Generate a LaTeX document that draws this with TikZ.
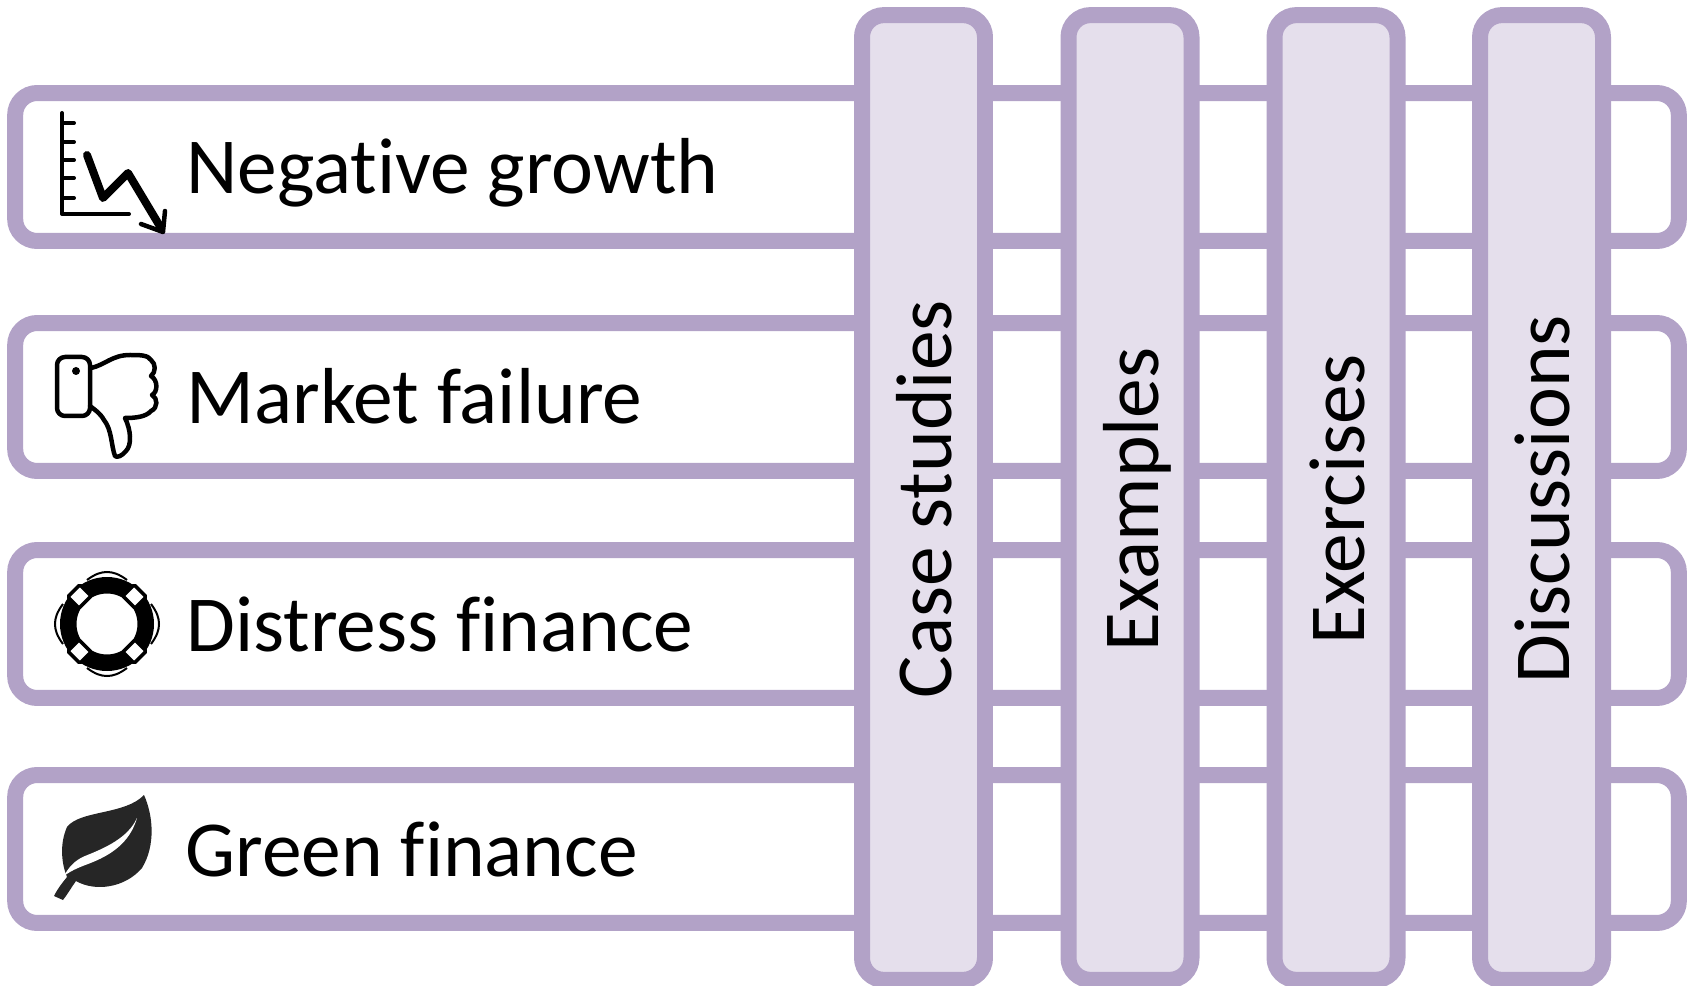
\documentclass[tikz,border=0pt]{standalone}
\usepackage{fontspec}
\setmainfont[Ligatures=NoCommon]{Carlito}
\usepackage{xcolor}
\definecolor{rowline}{HTML}{B2A2C7}
\definecolor{colfill}{HTML}{E5DFEC}
\definecolor{leafdark}{HTML}{262626}
\tikzset{
  rowbox/.style={draw=rowline, line width=0.32cm, rounded corners=0.44cm, outer sep=0pt, inner sep=0pt, minimum width=33.28cm, minimum height=2.96cm},
  colbox/.style={draw=rowline, fill=colfill, line width=0.32cm, rounded corners=0.44cm, outer sep=0pt, inner sep=0pt, rotate=90, minimum width=19.30cm, minimum height=2.46cm, text height=1.12cm, text depth=0pt, execute at end node=\hspace{0.07cm}, bigtext},
  rowtext/.style={anchor=base west, inner sep=0pt, bigtext},
  bigtext/.style={font=\fontsize{45.2}{50}\selectfont},
  iconline/.style={line width=0.08cm, line cap=round, line join=round}
}

\begin{document}
\begin{tikzpicture}[x=0.02cm, y=-0.02cm]
      \useasboundingbox (0,0) rectangle (1694,986);

      \node[rowbox] (growth) at (847,167) {};
      \node[rowbox] (failure) at (847,397) {};
      \node[rowbox] (distress) at (847,624) {};
      \node[rowbox] (green) at (847,849) {};

      \node[colbox] (cases) at (923.5,497.5) {Case studies};
      \node[colbox] (examples) at (1130,497.5) {Examples};
      \node[colbox] (exercises) at (1336,497.5) {Exercises};
      \node[colbox] (discussions) at (1541.5,497.5) {Discussions};

      \node[rowtext] (growthtext) at (186,194) {Negative growth};
      \node[rowtext] (failuretext) at (186,424) {Market failure};
      \node[rowtext] (distresstext) at (186,651) {Distress finance};
      \node[rowtext] (greentext) at (185,876) {Green finance};

      \draw[iconline] (62,113) -- (62,214) -- (129,214);
      \draw[iconline] (62,123) -- (74,123);
      \draw[iconline] (62,142) -- (74,142);
      \draw[iconline] (62,160) -- (74,160);
      \draw[iconline] (62,178) -- (74,178);
      \draw[iconline] (62,198) -- (74,198);
      \draw[iconline, line width=0.16cm] (87,155) -- (103,198) -- (128,173) -- (161,228);
      \draw[iconline, line width=0.09cm] (141,224) -- (163,232) -- (165,211);

      \draw[iconline, line width=0.09cm, rounded corners=0.16cm] (57,357) rectangle (90,416);
      \fill (76,371) circle (4);
      \draw[iconline, line width=0.09cm] (91,368) .. controls (105,365) and (112,355) .. (130,355)
        .. controls (140,355) and (148,355) .. (151,360)
        .. controls (156,364) and (156,372) .. (151,376)
        .. controls (158,380) and (158,392) .. (152,395)
        .. controls (158,398) and (158,408) .. (151,411)
        .. controls (146,417) and (135,418) .. (125,418)
        .. controls (131,430) and (132,445) .. (126,451)
        .. controls (122,456) and (117,458) .. (115,456)
        .. controls (111,445) and (112,430) .. (104,420)
        .. controls (100,413) and (95,410) .. (90,406);

      \begin{scope}[shift={(107,624)}]
        \fill[even odd rule] (0,0) circle (47) (0,0) circle (30.5);
        \foreach \a in {0,90,180,270}
          \draw[rotate=\a, line width=0.04cm] (-20,-44) .. controls (-12,-50) and (-6,-52) .. (0,-52)
            .. controls (6,-52) and (12,-50) .. (20,-44);
        \foreach \a in {45,135,225,315}
          \draw[rotate=\a, fill=white, line width=0.07cm, rounded corners=0.03cm] (31,-8.5) rectangle (47,8.5);
      \end{scope}

      \fill[leafdark] (144,795) .. controls (153,815) and (156,845) .. (142,868)
        .. controls (125,888) and (95,892) .. (76,881)
        .. controls (71,888) and (67,895) .. (63,900)
        -- (54,896)
        .. controls (58,888) and (63,882) .. (67,877)
        .. controls (62,865) and (59,845) .. (67,827)
        .. controls (80,810) and (125,815) .. (144,795);
      \fill[white] (137,818) .. controls (128,838) and (105,848) .. (85,856)
        .. controls (75,860) and (68,868) .. (64,876)
        .. controls (72,870) and (80,867) .. (88,864)
        .. controls (112,855) and (130,842) .. (137,818);
    \end{tikzpicture}
\end{document}
